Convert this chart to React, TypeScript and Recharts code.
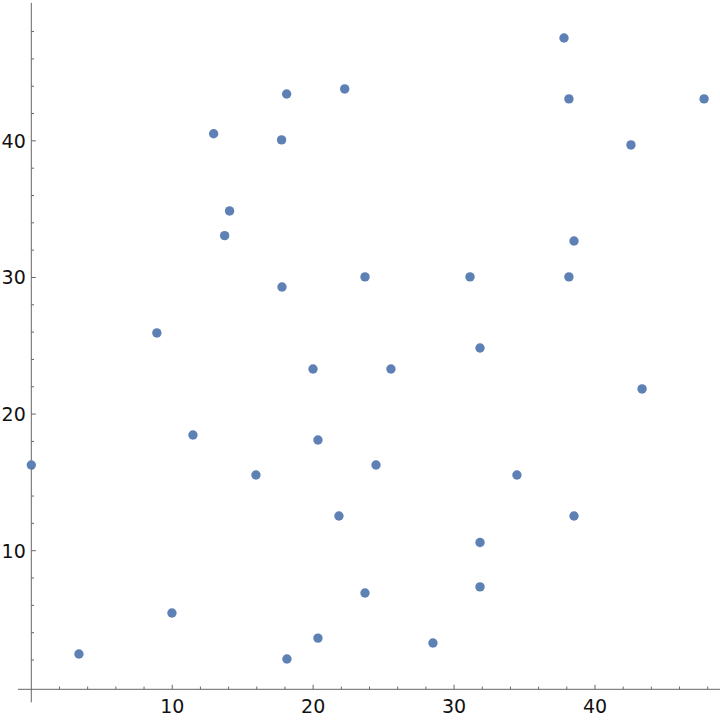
import { ScatterChart, Scatter, XAxis, YAxis, ReferenceLine } from 'recharts'

// values
const xValues = [
  0, 3.38, 8.91, 9.98, 11.47, 12.94, 13.72, 14.07, 15.94, 17.76, 17.79, 18.12,
  18.14, 19.99, 20.34, 20.34, 21.83, 22.24, 23.68, 23.68, 24.46, 25.52, 28.5,
  31.13, 31.84, 31.84, 31.84, 34.46, 37.8, 38.15, 38.15, 38.51, 38.51, 42.55,
  43.34, 47.74,
]
const yValues = [
  16.27, 2.44, 25.94, 5.44, 18.47, 40.52, 33.06, 34.87, 15.54, 40.07, 29.3, 43.43,
  2.07, 23.3, 18.1, 3.6, 12.54, 43.8, 30.04, 6.9, 16.27, 23.3, 3.24, 30.04,
  24.84, 10.6, 7.35, 15.54, 47.53, 43.07, 30.04, 32.67, 12.54, 39.7, 21.84,
  43.07,
]
const xTicks = [2, 4, 6, 8, 10, 12, 14, 16, 18, 20, 22, 24, 26, 28, 30, 32, 34, 36, 38, 40, 42, 44, 46, 48]
const yTicks = [2, 4, 6, 8, 10, 12, 14, 16, 18, 20, 22, 24, 26, 28, 30, 32, 34, 36, 38, 40, 42, 44, 46, 48]
const labelledTicks = [10, 20, 30, 40]

const data = xValues.map((x, i) => ({ x, y: yValues[i] }))

const AXIS = '#666666'
const POINT = '#5e81b5'
const FONT = 'DejaVu Sans, sans-serif'

const XTick = (props: any) => {
  const { x, y, payload } = props
  const major = labelledTicks.includes(payload.value)
  return (
    <g>
      <line x1={x} x2={x} y1={y} y2={y - (major ? 4.5 : 2.7)} stroke={AXIS} strokeWidth={1} />
      {major && (
        <text x={x} y={y + 23.2} textAnchor="middle" fontSize={19} fontFamily={FONT} fill="#111">
          {payload.value}
        </text>
      )}
    </g>
  )
}

const YTick = (props: any) => {
  const { x, y, payload } = props
  const major = labelledTicks.includes(payload.value)
  return (
    <g>
      <line x1={x} x2={x + (major ? 4.5 : 2.7)} y1={y} y2={y} stroke={AXIS} strokeWidth={1} />
      {major && (
        <text x={x - 5.5} y={y + 7} textAnchor="end" fontSize={19} fontFamily={FONT} fill="#111">
          {payload.value}
        </text>
      )}
    </g>
  )
}

export default function App() {
  return (
    <div style={{ width: 720, height: 720, background: '#fff' }}>
      <style>{`body{margin:0}`}</style>
      <ScatterChart width={720} height={720} margin={{ top: 0, right: 0, bottom: 0, left: 0 }}>
        <XAxis
          type="number"
          dataKey="x"
          domain={[0, 48.87]}
          ticks={xTicks}
          interval={0}
          height={30.7}
          tickSize={0}
          tickMargin={0}
          axisLine={false}
          tickLine={false}
          tick={<XTick />}
        />
        <YAxis
          type="number"
          dataKey="y"
          domain={[-0.146, 50.31]}
          ticks={yTicks}
          interval={0}
          width={31.3}
          tickSize={0}
          tickMargin={0}
          axisLine={false}
          tickLine={false}
          tick={<YTick />}
        />
        <ReferenceLine
          segment={[{ x: -0.95, y: -0.146 }, { x: 48.87, y: -0.146 }]}
          stroke={AXIS}
          strokeWidth={1}
          ifOverflow="visible"
        />
        <ReferenceLine
          segment={[{ x: 0, y: -1.1 }, { x: 0, y: 50.1 }]}
          stroke={AXIS}
          strokeWidth={1}
          ifOverflow="visible"
        />
        <Scatter
          data={data}
          isAnimationActive={false}
          fill={POINT}
          shape={(p: any) => <circle cx={p.cx} cy={p.cy} r={4.7} fill={POINT} />}
        />
      </ScatterChart>
    </div>
  )
}
